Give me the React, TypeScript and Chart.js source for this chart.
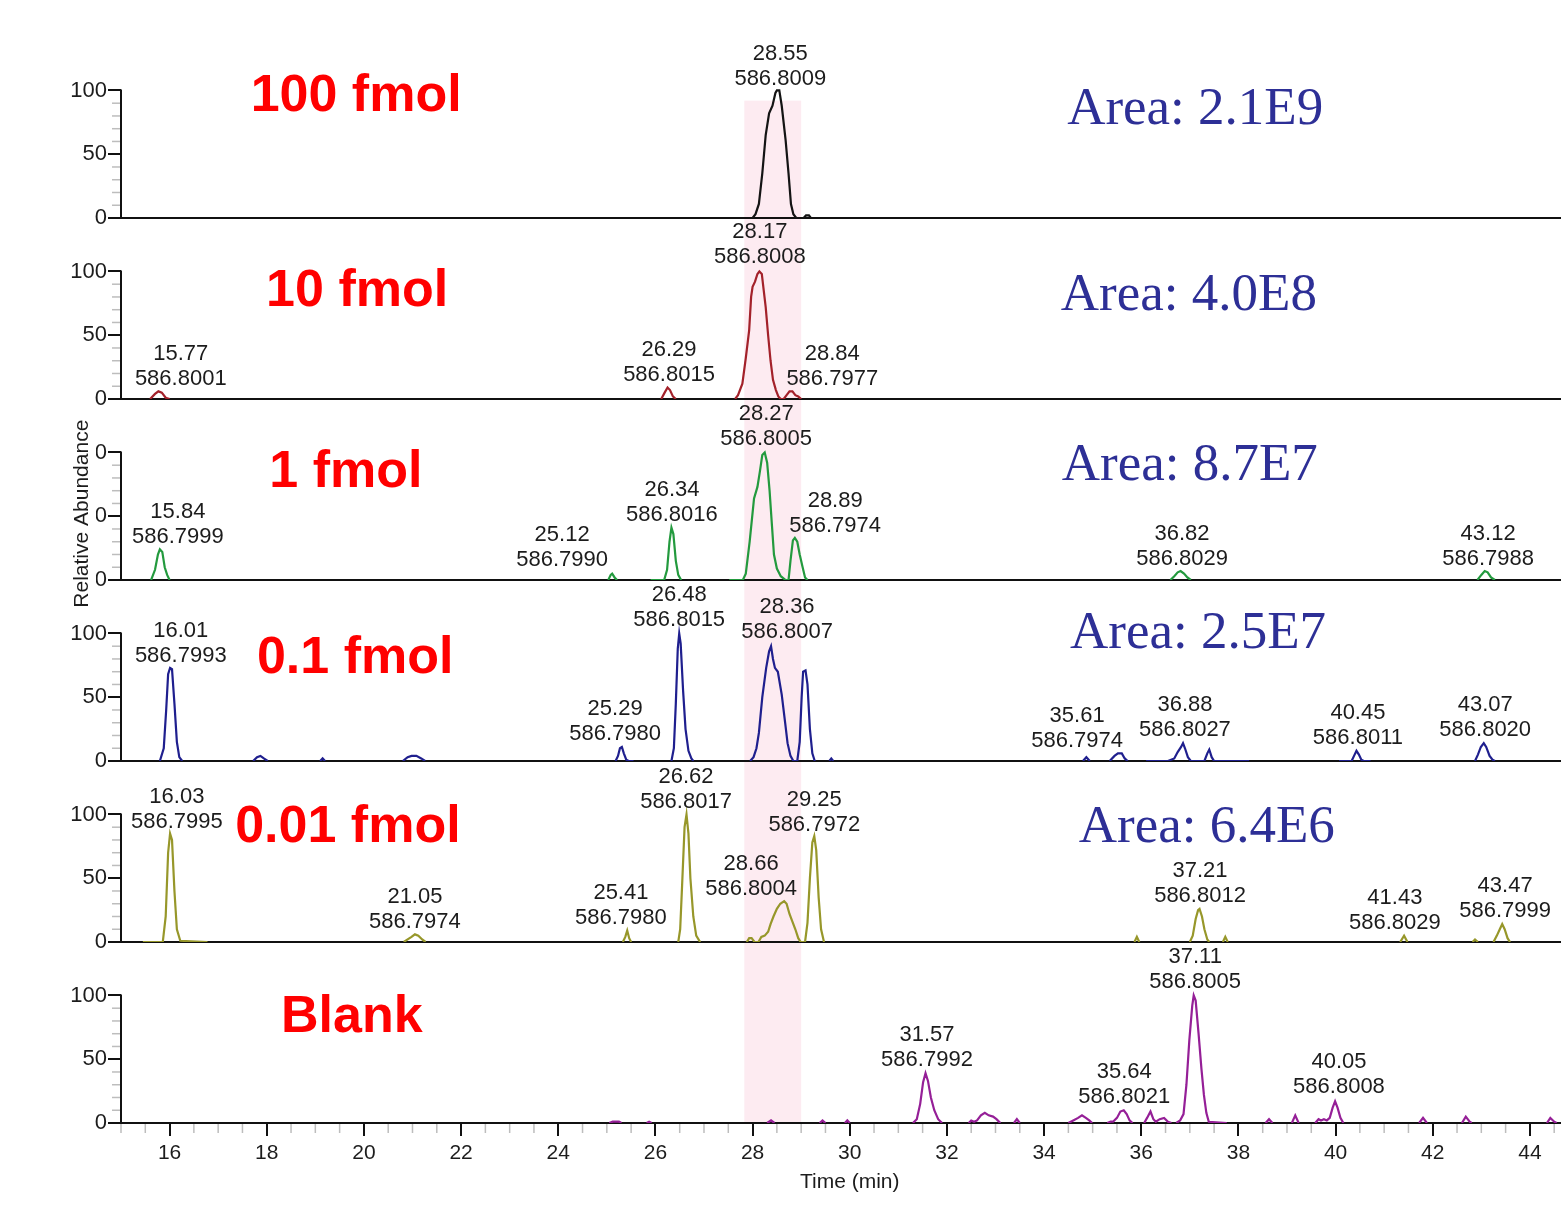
import React, { useEffect, useRef } from 'react';
import { Chart, registerables } from 'chart.js';

Chart.register(...registerables);

type Pt = [number, number] | null;

// ---------------- DATA ----------------
const timeRange = [15, 44.64];
const xTickValues = [16, 18, 20, 22, 24, 26, 28, 30, 32, 34, 36, 38, 40, 42, 44];
const yTickValues = [0, 50, 100];
const panelTitles = ['100 fmol', '10 fmol', '1 fmol', '0.1 fmol', '0.01 fmol', 'Blank'];
const areaLabels = ['Area: 2.1E9', 'Area: 4.0E8', 'Area: 8.7E7', 'Area: 2.5E7', 'Area: 6.4E6', ''];
const highlightWindow = [27.83, 29.0];

const trace100fmol: Pt[] = [
  [28.0, 0], [28.06, 3], [28.13, 11], [28.2, 35], [28.27, 65], [28.34, 82], [28.41, 88], [28.47, 98],
  [28.5, 100], [28.55, 100], [28.6, 88], [28.68, 61], [28.74, 35], [28.79, 11], [28.84, 3], [28.9, 0],
  [29.05, 0], [29.1, 2], [29.16, 2], [29.2, 0],
];

const trace10fmol: Pt[] = [
  [15.6, 0], [15.7, 4], [15.77, 6], [15.84, 5], [15.92, 1], [16.0, 0], null,
  [26.12, 0], [26.19, 5], [26.25, 9], [26.3, 7], [26.36, 2], [26.42, 0], null,
  [27.64, 0], [27.7, 3], [27.79, 12], [27.86, 32], [27.93, 54], [27.97, 80], [28.0, 88], [28.05, 92],
  [28.1, 98], [28.14, 100], [28.19, 98], [28.23, 85], [28.27, 72], [28.32, 50], [28.37, 30], [28.42, 15],
  [28.48, 7], [28.53, 2], [28.58, 0], [28.64, 0], [28.7, 3], [28.76, 6], [28.82, 6], [28.88, 3], [28.94, 2], [29.0, 0],
];

const trace1fmol: Pt[] = [
  [15.62, 0], [15.7, 8], [15.76, 20], [15.8, 24], [15.85, 22], [15.9, 10], [15.95, 4], [16.0, 0], null,
  [25.03, 0], [25.08, 4], [25.11, 5], [25.16, 2], [25.21, 0], null,
  [25.9, 0], [26.18, 0], [26.24, 8], [26.29, 30], [26.33, 41], [26.37, 36], [26.42, 15], [26.47, 4], [26.53, 0], null,
  [27.52, 0], [27.8, 0], [27.86, 5], [27.94, 30], [28.03, 64], [28.1, 73], [28.15, 85], [28.2, 98], [28.25, 100],
  [28.3, 92], [28.35, 70], [28.4, 42], [28.44, 20], [28.5, 9], [28.58, 3], [28.68, 0], [28.74, 0], [28.78, 15],
  [28.83, 31], [28.87, 33], [28.92, 30], [28.97, 20], [29.03, 10], [29.08, 2], [29.13, 0], null,
  [36.6, 0], [36.68, 3], [36.75, 6], [36.81, 7], [36.88, 5], [36.95, 2], [37.02, 0], null,
  [42.92, 0], [43.0, 4], [43.07, 7], [43.13, 6], [43.2, 2], [43.28, 0],
];

const trace01fmol: Pt[] = [
  [15.8, 0], [15.88, 10], [15.93, 40], [15.97, 68], [16.01, 73], [16.05, 72], [16.1, 45], [16.15, 15], [16.2, 3], [16.26, 0], null,
  [17.72, 0], [17.8, 3], [17.87, 4], [17.94, 2], [18.02, 0], null,
  [19.1, 0], [19.15, 2], [19.2, 0], null,
  [20.8, 0], [20.9, 3], [20.98, 4], [21.08, 4], [21.18, 2], [21.26, 0], null,
  [25.18, 0], [25.23, 4], [25.27, 10], [25.31, 11], [25.35, 6], [25.4, 1], [25.45, 0], [25.55, 0], null,
  [26.33, 0], [26.38, 10], [26.42, 45], [26.46, 88], [26.49, 100], [26.52, 92], [26.57, 55], [26.62, 25], [26.68, 8], [26.74, 2], [26.78, 0], null,
  [27.95, 0], [28.02, 3], [28.08, 10], [28.13, 22], [28.2, 50], [28.28, 73], [28.34, 86], [28.38, 90], [28.42, 80],
  [28.46, 73], [28.52, 70], [28.6, 52], [28.67, 30], [28.72, 14], [28.78, 4], [28.84, 0], [28.92, 0], [28.97, 15],
  [29.01, 50], [29.04, 70], [29.09, 71], [29.13, 60], [29.18, 25], [29.23, 6], [29.28, 0], null,
  [29.58, 0], [29.62, 2], [29.66, 0], null,
  [34.8, 0], [34.87, 3], [34.94, 0], null,
  [35.35, 0], [35.45, 4], [35.52, 6], [35.6, 6], [35.66, 2], [35.72, 0], null,
  [36.1, 0], [36.55, 0], [36.68, 2], [36.75, 7], [36.82, 11], [36.86, 14], [36.9, 10], [36.96, 3], [37.02, 0],
  [37.3, 0], [37.36, 6], [37.4, 9], [37.45, 3], [37.5, 0], [38.22, 0], null,
  [40.07, 0], [40.33, 0], [40.38, 4], [40.43, 8], [40.48, 5], [40.53, 1], [40.58, 0], [40.72, 0], null,
  [42.87, 0], [42.93, 5], [42.99, 11], [43.05, 14], [43.1, 11], [43.17, 4], [43.23, 1], [43.28, 0],
];

const trace001fmol: Pt[] = [
  [15.45, 0], [15.86, 0], [15.92, 20], [15.97, 70], [16.01, 85], [16.05, 80], [16.1, 40], [16.15, 10], [16.22, 1], [16.78, 0], null,
  [20.82, 0], [20.9, 2], [20.98, 4], [21.05, 6], [21.12, 5], [21.2, 2], [21.27, 0], null,
  [25.33, 0], [25.38, 4], [25.42, 9], [25.46, 3], [25.5, 0], null,
  [26.47, 0], [26.51, 10], [26.55, 45], [26.6, 90], [26.64, 100], [26.68, 85], [26.72, 50], [26.78, 20], [26.84, 5], [26.92, 0], null,
  [27.88, 0], [27.93, 3], [27.98, 3], [28.04, 0], [28.12, 0], [28.18, 4], [28.25, 5], [28.32, 8], [28.37, 14],
  [28.43, 20], [28.5, 26], [28.57, 30], [28.65, 32], [28.7, 30], [28.76, 22], [28.82, 16], [28.88, 10], [28.94, 3],
  [28.99, 0], [29.08, 0], [29.13, 15], [29.18, 50], [29.23, 78], [29.27, 83], [29.31, 72], [29.36, 35], [29.41, 10], [29.47, 0], null,
  [35.86, 0], [35.91, 4], [35.96, 0], null,
  [37.0, 0], [37.06, 5], [37.12, 18], [37.17, 25], [37.2, 26], [37.25, 20], [37.3, 10], [37.36, 2], [37.4, 0], null,
  [37.68, 0], [37.73, 4], [37.78, 0], null,
  [41.33, 0], [41.41, 5], [41.48, 0], null,
  [42.82, 0], [42.87, 2], [42.93, 0], null,
  [43.25, 0], [43.32, 5], [43.38, 10], [43.43, 14], [43.48, 10], [43.54, 3], [43.59, 0],
];

const traceBlank: Pt[] = [
  [25.05, 0], [25.12, 1], [25.25, 1], [25.3, 0], null,
  [25.82, 0], [25.87, 1], [25.92, 0], null,
  [28.3, 0], [28.38, 2], [28.45, 0], null,
  [29.38, 0], [29.44, 2], [29.5, 0], null,
  [29.9, 0], [29.95, 2], [30.0, 0], null,
  [31.3, 0], [31.38, 3], [31.45, 15], [31.51, 32], [31.56, 39], [31.61, 33], [31.67, 20], [31.74, 10], [31.82, 3], [31.9, 0], null,
  [32.45, 0], [32.5, 2], [32.56, 1], [32.62, 2], [32.7, 6], [32.78, 8], [32.86, 6], [32.95, 5], [33.02, 3], [33.1, 0], null,
  [33.38, 0], [33.44, 3], [33.5, 0], null,
  [34.5, 0], [34.6, 2], [34.7, 4], [34.78, 6], [34.86, 4], [34.93, 2], [34.99, 0], null,
  [35.3, 0], [35.37, 1], [35.42, 1], [35.5, 4], [35.57, 9], [35.64, 10], [35.7, 7], [35.76, 2], [35.82, 0], null,
  [36.06, 0], [36.12, 4], [36.19, 9], [36.25, 3], [36.3, 1], [36.38, 3], [36.47, 4], [36.55, 1], [36.62, 0], null,
  [36.72, 0], [36.8, 2], [36.87, 7], [36.93, 30], [36.99, 65], [37.05, 92], [37.08, 100], [37.12, 96], [37.18, 70],
  [37.24, 42], [37.29, 22], [37.34, 8], [37.39, 1], [37.76, 0], null,
  [38.56, 0], [38.63, 3], [38.7, 0], null,
  [39.1, 0], [39.17, 6], [39.24, 0], null,
  [39.58, 0], [39.65, 3], [39.7, 2], [39.76, 3], [39.82, 2], [39.88, 4], [39.94, 12], [39.99, 17], [40.04, 12], [40.1, 4], [40.16, 0], null,
  [41.72, 0], [41.8, 4], [41.88, 0], null,
  [42.6, 0], [42.68, 5], [42.76, 1], [42.8, 0], null,
  [44.35, 0], [44.42, 4], [44.5, 1], [44.55, 0],
];

const peaks100fmol = [['28.55', '586.8009']];
const peaks10fmol = [['15.77', '586.8001'], ['26.29', '586.8015'], ['28.17', '586.8008'], ['28.84', '586.7977']];
const peaks1fmol = [['15.84', '586.7999'], ['25.12', '586.7990'], ['26.34', '586.8016'], ['28.27', '586.8005'], ['28.89', '586.7974'], ['36.82', '586.8029'], ['43.12', '586.7988']];
const peaks01fmol = [['16.01', '586.7993'], ['25.29', '586.7980'], ['26.48', '586.8015'], ['28.36', '586.8007'], ['35.61', '586.7974'], ['36.88', '586.8027'], ['40.45', '586.8011'], ['43.07', '586.8020']];
const peaks001fmol = [['16.03', '586.7995'], ['21.05', '586.7974'], ['25.41', '586.7980'], ['26.62', '586.8017'], ['28.66', '586.8004'], ['29.25', '586.7972'], ['37.21', '586.8012'], ['41.43', '586.8029'], ['43.47', '586.7999']];
const peaksBlank = [['31.57', '586.7992'], ['35.64', '586.8021'], ['37.11', '586.8005'], ['40.05', '586.8008']];

const traces = [trace100fmol, trace10fmol, trace1fmol, trace01fmol, trace001fmol, traceBlank];
const peakTexts = [peaks100fmol, peaks10fmol, peaks1fmol, peaks01fmol, peaks001fmol, peaksBlank];

// ---------------- LAYOUT / STYLE ----------------
const SANS = '"Liberation Sans", Arial, Helvetica, sans-serif';
const SERIF = '"Liberation Serif", "Times New Roman", Times, serif';
const PANEL_MAX = 141.9;
const COLORS = ['#141414', '#a3212a', '#239a3e', '#1f1f8e', '#97972a', '#951f97'];
const TEXT_COLOR = '#1c1c1c';

// label anchor positions: [time, value of m/z line centre]
const PEAK_LABEL_POS = [
  [[28.57, 110.4]],
  [[16.23, 17.2], [26.28, 20.4], [28.15, 112.8], [29.64, 17.2]],
  [[16.17, 35.2], [24.08, 17.2], [26.34, 52.5], [28.28, 112], [29.7, 43.9], [36.84, 18], [43.14, 18]],
  [[16.23, 83.8], [25.17, 22.7], [26.49, 112], [28.71, 102.6], [34.68, 17.2], [36.9, 25.8], [40.46, 19.6], [43.08, 25.8]],
  [[16.15, 95.5], [21.05, 17.2], [25.29, 20.4], [26.63, 111.2], [27.97, 43], [29.27, 93.2], [37.21, 37.6], [41.22, 16.4], [43.49, 25.8]],
  [[31.59, 50.9], [35.65, 21.9], [37.11, 112], [40.07, 29.8]],
];
const TITLE_POS = [[19.84, 97], [19.86, 86], [19.63, 86], [19.82, 82], [19.67, 91], [19.75, 84]];
const AREA_POS = [[37.11, 87], [36.98, 83], [37.0, 92], [37.17, 102], [37.35, 92], [0, 0]];

function toXY(trace: Pt[]) {
  const out: { x: number; y: number | null }[] = [];
  let lastX = timeRange[0];
  for (const p of trace) {
    if (p) {
      out.push({ x: p[0], y: p[1] });
      lastX = p[0];
    } else {
      out.push({ x: lastX + 0.001, y: null });
    }
  }
  return out;
}

const decorPlugin = {
  id: 'decor',
  beforeDraw(chart: any) {
    const ctx = chart.ctx;
    const xs = chart.scales.x;
    const top = chart.scales.y0.getPixelForValue(92);
    const bottom = chart.scales.y5.getPixelForValue(0);
    const x1 = xs.getPixelForValue(highlightWindow[0]);
    const x2 = xs.getPixelForValue(highlightWindow[1]);
    ctx.save();
    ctx.fillStyle = '#fdebf1';
    ctx.fillRect(x1, top, x2 - x1, bottom - top - 1);
    ctx.restore();
  },
  beforeDatasetsDraw(chart: any) {
    const ctx = chart.ctx;
    const { left, right, bottom } = chart.chartArea;
    const xs = chart.scales.x;
    ctx.save();
    // minor x ticks
    ctx.strokeStyle = '#bdbdbd';
    ctx.lineWidth = 1.5;
    for (let t = 15; t <= timeRange[1]; t += 0.5) {
      if (Math.abs(t / 2 - Math.round(t / 2)) < 1e-6) continue;
      const px = xs.getPixelForValue(t);
      ctx.beginPath();
      ctx.moveTo(px, bottom + 1);
      ctx.lineTo(px, bottom + 10);
      ctx.stroke();
    }
    for (let i = 0; i < 6; i++) {
      const ys = chart.scales['y' + i];
      const y0 = ys.getPixelForValue(0);
      const y100 = ys.getPixelForValue(100);
      // minor y ticks
      ctx.strokeStyle = '#bdbdbd';
      ctx.lineWidth = 1.5;
      for (let v = 10; v < 100; v += 10) {
        if (v === 50) continue;
        const py = ys.getPixelForValue(v);
        ctx.beginPath();
        ctx.moveTo(left - 9, py);
        ctx.lineTo(left, py);
        ctx.stroke();
      }
      ctx.strokeStyle = '#111';
      ctx.lineWidth = 2;
      // y axis line
      ctx.beginPath();
      ctx.moveTo(left, y100 - 1);
      ctx.lineTo(left, y0);
      ctx.stroke();
      // panel baseline
      if (i < 5) {
        ctx.beginPath();
        ctx.moveTo(left, y0);
        ctx.lineTo(right, y0);
        ctx.stroke();
      }
    }
    ctx.restore();
  },
  afterDraw(chart: any) {
    const ctx = chart.ctx;
    const xs = chart.scales.x;
    const { left, bottom } = chart.chartArea;
    ctx.save();
    ctx.textAlign = 'center';
    ctx.textBaseline = 'middle';
    for (let i = 0; i < 6; i++) {
      const ys = chart.scales['y' + i];
      // peak labels
      ctx.fillStyle = TEXT_COLOR;
      ctx.font = `22px ${SANS}`;
      peakTexts[i].forEach((lbl, j) => {
        const pos = PEAK_LABEL_POS[i][j];
        const px = xs.getPixelForValue(pos[0]);
        const py = ys.getPixelForValue(pos[1]) + 2;
        ctx.fillText(lbl[0], px, py - 25);
        ctx.fillText(lbl[1], px, py);
      });
      // titles
      ctx.fillStyle = '#ff0000';
      ctx.font = `bold 52px ${SANS}`;
      ctx.fillText(panelTitles[i], xs.getPixelForValue(TITLE_POS[i][0]), ys.getPixelForValue(TITLE_POS[i][1]) + 2);
      if (areaLabels[i]) {
        ctx.fillStyle = '#2d2f96';
        ctx.font = `53px ${SERIF}`;
        ctx.fillText(areaLabels[i], xs.getPixelForValue(AREA_POS[i][0]), ys.getPixelForValue(AREA_POS[i][1]) + 3);
      }
    }
    // x title
    ctx.fillStyle = TEXT_COLOR;
    ctx.font = `21px ${SANS}`;
    ctx.fillText('Time (min)', xs.getPixelForValue(30), bottom + 59);
    // y title with white backing
    const yc = chart.scales.y2.getPixelForValue(52);
    const xc = left - 39;
    const w = ctx.measureText('Relative Abundance').width;
    ctx.fillStyle = '#ffffff';
    ctx.fillRect(xc - 13, yc - w / 2 - 4, 27, w + 8);
    ctx.translate(xc, yc);
    ctx.rotate(-Math.PI / 2);
    ctx.fillStyle = TEXT_COLOR;
    ctx.fillText('Relative Abundance', 0, 0);
    ctx.restore();
  },
};

export default function App() {
  const canvasRef = useRef<HTMLCanvasElement | null>(null);

  useEffect(() => {
    if (!canvasRef.current) return;
    const scales: any = {
      x: {
        type: 'linear',
        min: timeRange[0],
        max: timeRange[1],
        afterBuildTicks: (s: any) => {
          s.ticks = xTickValues.map((v) => ({ value: v }));
        },
        afterFit: (s: any) => {
          s.height = 83;
        },
        ticks: {
          autoSkip: false,
          maxRotation: 0,
          padding: 5,
          color: TEXT_COLOR,
          font: { family: SANS, size: 21 },
          callback: (v: any) => String(v),
        },
        grid: { drawOnChartArea: false, drawTicks: true, tickLength: 13, tickWidth: 2, lineWidth: 2, tickColor: '#111' },
        border: { display: true, color: '#111', width: 2 },
      },
    };
    for (let i = 5; i >= 0; i--) {
      scales['y' + i] = {
        type: 'linear',
        position: 'left',
        stack: 'panels',
        stackWeight: 1,
        min: 0,
        max: PANEL_MAX,
        afterBuildTicks: (s: any) => {
          s.ticks = yTickValues.map((v) => ({ value: v }));
        },
        afterFit: (s: any) => {
          s.width = 121;
        },
        ticks: {
          padding: 1,
          color: TEXT_COLOR,
          font: { family: SANS, size: 22 },
          callback: (v: any) => String(v),
        },
        grid: { drawOnChartArea: false, drawTicks: true, tickLength: 13, tickWidth: 2, lineWidth: 2, tickColor: '#111' },
        border: { display: false },
      };
    }

    const datasets = traces.map((tr, i) => ({
      label: panelTitles[i],
      data: toXY(tr),
      yAxisID: 'y' + i,
      xAxisID: 'x',
      borderColor: COLORS[i],
      backgroundColor: COLORS[i],
      borderWidth: 2.2,
      pointRadius: 0,
      tension: 0,
      spanGaps: false,
      fill: false,
    }));

    const chart = new Chart(canvasRef.current, {
      type: 'line',
      data: { datasets } as any,
      options: {
        responsive: false,
        animation: false,
        devicePixelRatio: 1,
        layout: { padding: { top: 37, right: 0, bottom: 0, left: 0 } },
        plugins: { legend: { display: false }, tooltip: { enabled: false }, title: { display: false } },
        scales,
      } as any,
      plugins: [decorPlugin],
    });
    return () => chart.destroy();
  }, []);

  return (
    <div style={{ position: 'fixed', left: 0, top: 0, width: 1561, height: 1206, background: '#ffffff' }}>
      <canvas ref={canvasRef} width={1561} height={1206} style={{ display: 'block' }} />
    </div>
  );
}
